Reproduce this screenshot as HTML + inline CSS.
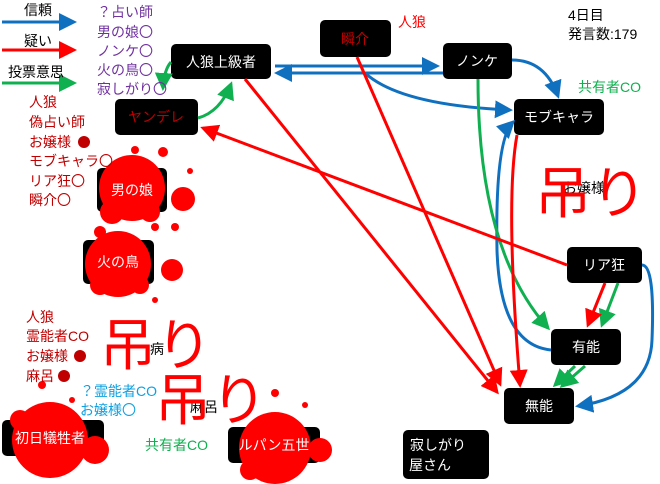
<html><head><style>body{margin:0;width:660px;height:484px;overflow:hidden;background:#fff;font-family:"Liberation Sans","Noto Sans CJK JP",sans-serif}</style></head><body>
<svg width="660" height="484" viewBox="0 0 660 484" xmlns="http://www.w3.org/2000/svg" font-family="Liberation Sans, Noto Sans CJK JP, sans-serif">
<defs>
<marker id="b" markerWidth="6" markerHeight="6" refX="5" refY="3" orient="auto" markerUnits="strokeWidth"><path d="M0,0L6,3L0,6z" fill="#1070c0"/></marker>
<marker id="r" markerWidth="6" markerHeight="6" refX="5" refY="3" orient="auto" markerUnits="strokeWidth"><path d="M0,0L6,3L0,6z" fill="#f00"/></marker>
<marker id="g" markerWidth="6" markerHeight="6" refX="5" refY="3" orient="auto" markerUnits="strokeWidth"><path d="M0,0L6,3L0,6z" fill="#10b050"/></marker>
</defs>
<g fill="#000">
<rect x="97" y="168" width="70" height="44" rx="5"/>
<rect x="83" y="240" width="71" height="44" rx="5"/>
<rect x="2" y="420" width="102" height="36" rx="5"/>
<rect x="228" y="427" width="92" height="36" rx="5"/>
</g>
<g fill="#f00">
<circle cx="132" cy="188" r="33"/><circle cx="112" cy="212" r="12"/><circle cx="150" cy="212" r="10"/><circle cx="183" cy="199" r="12"/><circle cx="163" cy="152" r="5"/><circle cx="135" cy="150" r="4"/><circle cx="190" cy="171" r="3"/><circle cx="155" cy="227" r="4"/><circle cx="175" cy="227" r="4"/>
<circle cx="118" cy="264" r="33"/><circle cx="100" cy="285" r="10"/><circle cx="140" cy="285" r="9"/><circle cx="172" cy="270" r="11"/><circle cx="155" cy="300" r="3"/><circle cx="100" cy="232" r="6"/>
<circle cx="50" cy="440" r="38"/><circle cx="20" cy="420" r="10"/><circle cx="95" cy="450" r="14"/><circle cx="42" cy="385" r="4"/><circle cx="72" cy="400" r="3"/>
<circle cx="275" cy="448" r="36"/><circle cx="250" cy="470" r="10"/><circle cx="320" cy="450" r="12"/><circle cx="275" cy="393" r="4"/><circle cx="305" cy="405" r="3"/>
</g>
<g fill="#000">
<rect x="171" y="44" width="100" height="35" rx="5"/>
<rect x="320" y="20" width="71" height="37" rx="5"/>
<rect x="443" y="43" width="69" height="36" rx="5"/>
<rect x="514" y="99" width="90" height="36" rx="5"/>
<rect x="115" y="99" width="83" height="36" rx="5"/>
<rect x="567" y="247" width="75" height="36" rx="5"/>
<rect x="551" y="329" width="70" height="36" rx="5"/>
<rect x="504" y="388" width="70" height="36" rx="5"/>
<rect x="403" y="430" width="86" height="49" rx="5"/>
</g>
<g fill="none" stroke-width="3">
<line x1="2" y1="22" x2="74" y2="22" stroke="#1070c0" marker-end="url(#b)"/>
<line x1="2" y1="50" x2="74" y2="50" stroke="#f00" marker-end="url(#r)"/>
<line x1="2" y1="83" x2="74" y2="83" stroke="#10b050" marker-end="url(#g)"/>
<line x1="275" y1="66" x2="437" y2="66" stroke="#1070c0" marker-end="url(#b)"/>
<line x1="443" y1="73" x2="277" y2="73" stroke="#1070c0" marker-end="url(#b)"/>
<path d="M365,73 Q400,105 510,110" stroke="#1070c0" marker-end="url(#b)"/>
<path d="M512,60 Q545,60 558,96" stroke="#1070c0" marker-end="url(#b)"/>
<path d="M551,350 Q500,345 497,250 Q495,140 513,122" stroke="#1070c0" marker-end="url(#b)"/>
<path d="M642,265 Q655,265 652,340 Q650,395 578,406" stroke="#1070c0" marker-end="url(#b)"/>
<path d="M478,79 Q478,250 548,328" stroke="#10b050" marker-end="url(#g)"/>
<path d="M198,118 Q220,112 231,84" stroke="#10b050" marker-end="url(#g)"/>
<path d="M171,62 Q164,70 163,88" stroke="#10b050" marker-end="url(#g)"/>
<line x1="618" y1="283" x2="602" y2="325" stroke="#10b050" marker-end="url(#g)"/>
<line x1="585" y1="366" x2="562" y2="386" stroke="#10b050" marker-end="url(#g)"/>
<line x1="575" y1="366" x2="555" y2="385" stroke="#10b050" marker-end="url(#g)"/>
<line x1="605" y1="283" x2="588" y2="325" stroke="#f00" marker-end="url(#r)"/>
<path d="M517,135 Q505,200 520,385" stroke="#f00" marker-end="url(#r)"/>
<line x1="357" y1="57" x2="500" y2="384" stroke="#f00" marker-end="url(#r)"/>
<line x1="245" y1="79" x2="497" y2="392" stroke="#f00" marker-end="url(#r)"/>
<line x1="567" y1="265" x2="203" y2="128" stroke="#f00" marker-end="url(#r)"/>
</g>
<g font-size="14">
<text x="24" y="15">信頼</text><text x="24" y="46">疑い</text><text x="8" y="77">投票意思</text>
<g fill="#7030a0"><text x="97" y="17">？占い師</text><text x="97" y="37">男の娘〇</text><text x="97" y="56">ノンケ〇</text><text x="97" y="75">火の鳥〇</text><text x="97" y="94">寂しがり〇</text></g>
<g fill="#c00000"><text x="29" y="107">人狼</text><text x="29" y="127">偽占い師</text><text x="29" y="147">お嬢様</text><text x="29" y="166">モブキャラ〇</text><text x="29" y="186">リア狂〇</text><text x="29" y="205">瞬介〇</text>
<text x="26" y="322">人狼</text><text x="26" y="341">霊能者CO</text><text x="26" y="361">お嬢様</text><text x="26" y="381">麻呂</text>
<circle cx="84" cy="142" r="6"/><circle cx="80" cy="356" r="6"/><circle cx="64" cy="376" r="6"/></g>
<g fill="#10a0e0"><text x="80" y="396">？霊能者CO</text><text x="80" y="415">お嬢様〇</text></g>
<g fill="#10b050"><text x="145" y="450">共有者CO</text><text x="578" y="92">共有者CO</text></g>
<text x="398" y="27" fill="#f00">人狼</text>
<text x="568" y="20">4日目</text><text x="568" y="39">発言数:179</text>
<text x="150" y="354">病</text><text x="190" y="412">麻呂</text><text x="563" y="193">お嬢様</text>
</g>
<g fill="#f00" font-size="56"><text x="100" y="365">吊り</text><text x="155" y="420">吊り</text><text x="535" y="213">吊り</text></g>
<g fill="#fff" font-size="14" text-anchor="middle">
<text x="221" y="67">人狼上級者</text><text x="355" y="44" fill="#c00000">瞬介</text><text x="477" y="66">ノンケ</text><text x="559" y="122">モブキャラ</text><text x="156" y="122" fill="#c00000">ヤンデレ</text>
<text x="132" y="195">男の娘</text><text x="118" y="267">火の鳥</text><text x="604" y="270">リア狂</text><text x="586" y="352">有能</text><text x="539" y="411">無能</text>
<text x="50" y="443">初日犠牲者</text><text x="274" y="450">ルパン五世</text>
<text x="438" y="450">寂しがり</text><text x="430" y="470">屋さん</text>
</g>
</svg></body></html>
